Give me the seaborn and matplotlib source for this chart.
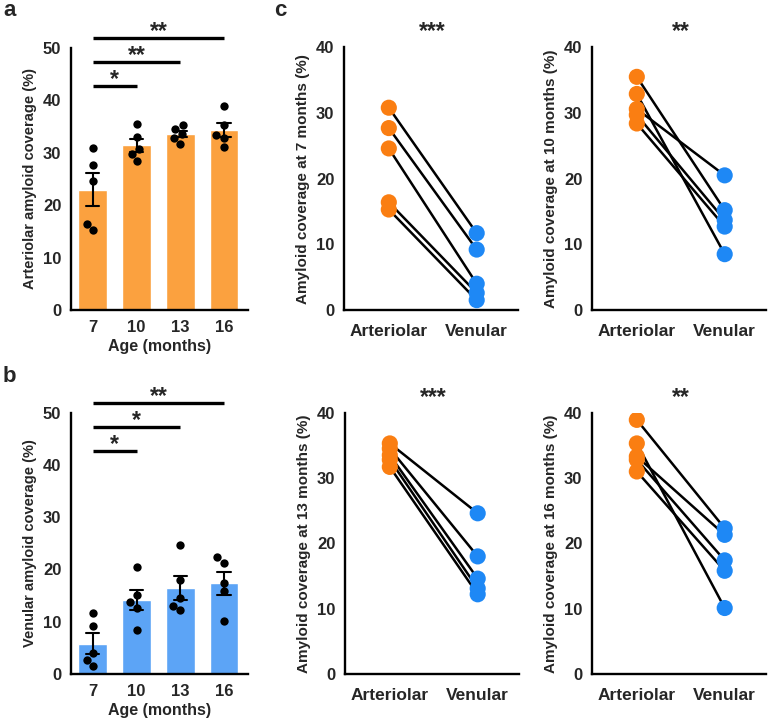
import numpy as np
import pandas as pd
import matplotlib
matplotlib.use("Agg")
import matplotlib.pyplot as plt
import seaborn as sns

# ---------------- data ----------------
ages = ["7", "10", "13", "16"]
art_7 = [30.8, 27.7, 24.6, 16.4, 15.3]
ven_7 = [11.7, 9.2, 4.0, 2.6, 1.5]
art_10 = [35.5, 32.9, 30.6, 29.7, 28.4]
ven_10 = [15.2, 8.5, 20.5, 13.7, 12.7]
art_13 = [35.3, 34.5, 33.5, 32.8, 31.7]
ven_13 = [24.6, 18.0, 14.6, 13.1, 12.2]
art_16 = [38.9, 35.3, 33.3, 32.8, 31.0]
ven_16 = [22.3, 10.1, 21.3, 17.4, 15.8]
conditions = ["Arteriolar", "Venular"]
sig_a = ["*", "**", "**"]
sig_b = ["*", "*", "**"]
sig_c = ["***", "**", "***", "**"]

sns.set_style("white")
plt.rcParams["font.family"] = ["Liberation Sans", "DejaVu Sans"]
plt.rcParams["font.weight"] = "bold"

ORANGE_BAR = "#FBA13F"
BLUE_BAR = "#5CA4F6"
ORANGE = "#FA7E12"
BLUE = "#1E88F5"

fig = plt.figure(figsize=(7.7, 7.22), dpi=100)

def style_axis(ax, lw=1.7):
    for s in ["top", "right"]:
        ax.spines[s].set_visible(False)
    for s in ["left", "bottom"]:
        ax.spines[s].set_linewidth(lw)
        ax.spines[s].set_color("black")
    ax.tick_params(axis="both", direction="out", length=5, width=lw,
                   color="black", labelsize=12, pad=2)
    for lab in ax.get_xticklabels() + ax.get_yticklabels():
        lab.set_fontweight("bold")

def bar_panel(ax, art_lists, color, ylabel, sigs):
    vals = []
    for age, lst in zip(ages, art_lists):
        for v in lst:
            vals.append((age, v))
    df = pd.DataFrame(vals, columns=["age", "value"])
    sns.barplot(data=df, x="age", y="value", order=ages, color=color,
                errorbar="se", capsize=0.3, width=0.66, saturation=1,
                err_kws={"color": "black", "linewidth": 1.5}, ax=ax)
    sns.swarmplot(data=df, x="age", y="value", order=ages, color="black",
                  size=6, ax=ax)
    ax.set_ylim(0, 50)
    ax.set_xlim(-0.5, 3.55)
    ax.set_yticks([0, 10, 20, 30, 40, 50])
    ax.set_xlabel("Age (months)", fontsize=11.5, fontweight="bold", labelpad=3)
    ax.set_ylabel(ylabel, fontsize=10.5, fontweight="bold", labelpad=4)
    style_axis(ax)
    levels = [42.7, 47.3, 51.8]
    for j, (lev, s) in enumerate(zip(levels, sigs)):
        ax.plot([0, j + 1], [lev, lev], color="black", lw=2.4,
                clip_on=False, solid_capstyle="butt")
        ax.text((j + 1) / 2, lev, s, ha="center", va="baseline",
                fontsize=16.5, fontweight="bold", clip_on=False)

ax_a = fig.add_axes([71 / 770, 1 - 310 / 722, 177 / 770, 262.3 / 722])
bar_panel(ax_a, [art_7, art_10, art_13, art_16], ORANGE_BAR,
          "Arteriolar amyloid coverage (%)", sig_a)
ax_b = fig.add_axes([71 / 770, 1 - 674 / 722, 177 / 770, 261.3 / 722])
bar_panel(ax_b, [ven_7, ven_10, ven_13, ven_16], BLUE_BAR,
          "Venular amyloid coverage (%)", sig_b)

def paired_panel(ax, art, ven, month, sig):
    rows = []
    for i, (a, v) in enumerate(zip(art, ven)):
        rows.append((i, 0, conditions[0], a))
        rows.append((i, 1, conditions[1], v))
    df = pd.DataFrame(rows, columns=["subject", "pos", "cond", "value"])
    sns.lineplot(data=df, x="pos", y="value", units="subject", estimator=None,
                 color="black", lw=1.8, ax=ax, legend=False)
    sns.scatterplot(data=df, x="pos", y="value", hue="cond",
                    palette={conditions[0]: ORANGE, conditions[1]: BLUE},
                    s=135, edgecolor="none", ax=ax, legend=False, zorder=3)
    ax.set_xlim(-0.51, 1.47)
    ax.set_ylim(0, 40)
    ax.set_yticks([0, 10, 20, 30, 40])
    ax.set_xticks([0, 1])
    ax.set_xticklabels(conditions)
    ax.set_xlabel("")
    ax.set_ylabel(f"Amyloid coverage at {month} months (%)", fontsize=11,
                  fontweight="bold", labelpad=4)
    style_axis(ax)
    ax.tick_params(axis="x", labelsize=12.5, pad=5)
    ax.text(0.5, 41.4, sig, ha="center", va="baseline", fontsize=16.5,
            fontweight="bold", clip_on=False)

pos_c = [
    [344 / 770, 1 - 310 / 722, 174 / 770, 262.7 / 722],
    [592 / 770, 1 - 310 / 722, 174 / 770, 262.7 / 722],
    [345 / 770, 1 - 674 / 722, 174 / 770, 261.3 / 722],
    [592 / 770, 1 - 674 / 722, 174 / 770, 261.3 / 722],
]
pairs = [(art_7, ven_7, 7), (art_10, ven_10, 10), (art_13, ven_13, 13), (art_16, ven_16, 16)]
for p, (a, v, m), s in zip(pos_c, pairs, sig_c):
    ax = fig.add_axes(p)
    paired_panel(ax, a, v, m, s)

fig.text(3 / 770, 1 - 10 / 722, "a", fontsize=16, fontweight="bold", va="center")
fig.text(3 / 770, 1 - 377 / 722, "b", fontsize=16, fontweight="bold", va="center")
fig.text(274 / 770, 1 - 10 / 722, "c", fontsize=16, fontweight="bold", va="center")

fig.savefig("out.png", dpi=100)
